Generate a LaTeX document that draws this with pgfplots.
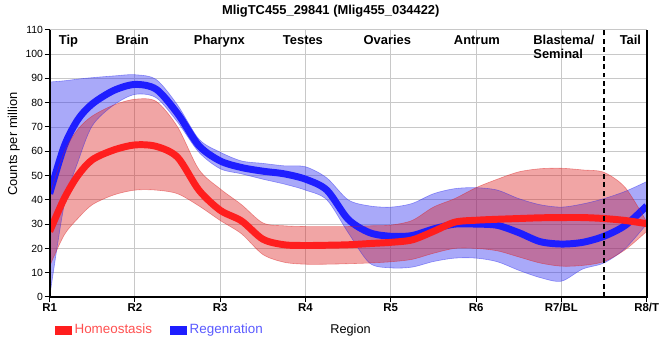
\documentclass[border=0pt]{standalone}
\usepackage{fontspec}
\setmainfont{Liberation Sans}
\usepackage{pgfplots}
\pgfplotsset{compat=1.18}
\usepackage{pgfplotstable}
\usepgfplotslibrary{fillbetween}
\definecolor{redline}{RGB}{255,30,30}
\definecolor{blueline}{RGB}{30,30,255}
\definecolor{redband}{RGB}{220,30,30}
\definecolor{blueband}{RGB}{40,40,240}
\definecolor{gridgray}{RGB}{200,200,200}
\definecolor{legred}{RGB}{255,80,80}
\definecolor{legblue}{RGB}{90,90,255}

% x: region position (R1=0 ... R8/T=7)
% rl/ru/rb: Homeostasis line / upper / lower ; bl/bu/bb: Regenration line / upper / lower
\pgfplotstableread{
x     rl    ru    rb    bl    bu    bb
0     27    42    12.7  42.5  88.5  0
0.17  40.5  59.6  25.5  62    89    37.8
0.33  50    69    32.3  73    89.7  55.5
0.5   56.5  74.5  38    79.5  90.3  70.5
0.75  60.5  79    42    85    91    79
1     62.6  81.4  44    87.5  91.5  83.4
1.25  62    80.5  44    85.5  89.5  82
1.5   57.5  70    42.5  75.5  79    72
1.75  44    52.5  37.5  62.3  65    59.6
2     35.7  44.5  31.5  56    59.6  52.8
2.25  31.3  38    26    53.3  56    50.7
2.5   23.8  30.5  17.5  51.8  55    48.5
2.75  21.5  29.3  14.3  50.7  54    46.5
3     21.2  29    13.5  48.5  53.6  44
3.25  21.3  29    13.5  44    49    40
3.5   21.5  29    13.7  32    40    26.5
3.75  22    29.3  14    26.5  37.5  14
4     22.5  29.6  14.5  25    37    12
4.25  23.5  31.5  15.5  25.3  38.5  12.3
4.5   27    37    18    28    42.5  14.6
4.75  30.8  40.5  20    30    44.6  16
5     31.6  45    20    30    45    16
5.25  32    48.5  19    29.5  44    14.5
5.5   32.3  51.5  16.5  26.5  40.5  11
5.75  32.6  52.8  14    22.8  38    8
6     32.7  53    12.7  21.8  37    6.5
6.25  32.7  52.3  13    22.5  38.3  11.5
6.5   32.3  51.3  14.6  25    40.5  14
6.75  31.5  45    19.5  29.5  43.5  20
7     30.2  31    27    37.5  47.5  30
}\data

\begin{document}
\begin{tikzpicture}
\path (0,0) rectangle (660bp,360bp);
\node[anchor=base, font=\fontsize{13bp}{15bp}\selectfont\bfseries] at (333bp,345bp) {MligTC455\_29841 (Mlig455\_034422)};
\node[rotate=90, font=\fontsize{13bp}{15bp}\selectfont] at (14bp,215bp) {Counts per million};
\begin{axis}[
  at={(50bp,61bp)}, anchor=south west,
  scale only axis, width=601bp, height=269bp,
  xmin=0, xmax=7, ymin=0, ymax=110,
  xtick={0,...,7},
  xticklabels={R1,R2,R3,R4,R5,R6,R7/BL,R8/T},
  ytick={0,10,...,110},
  xtick pos=bottom, ytick pos=left, tick align=outside,
  major tick length=5bp,
  tick style={black, line width=1bp},
  grid=major, grid style={gridgray, line width=0.9bp},
  axis line style={draw=none},
  /pgf/number format/assume math mode=true,
  yticklabel style={font=\fontsize{10.5bp}{12bp}\selectfont, inner sep=1.5bp},
  xticklabel style={font=\fontsize{11.5bp}{13bp}\selectfont\bfseries, inner sep=1bp},
  clip mode=individual,
  xlabel={Region},
  x label style={at={(rel axis cs:0.504,-0.1375)}, anchor=base, font=\fontsize{12.8bp}{14bp}\selectfont},
  legend style={at={(rel axis cs:0.0083,-0.122)}, anchor=west, draw=none, fill=none,
    legend columns=2, inner sep=0pt, nodes={inner sep=0pt},
    font=\fontsize{13.5bp}{15bp}\selectfont,
    /tikz/every odd column/.append style={column sep=3bp},
    /tikz/every even column/.append style={column sep=18bp}},
  legend image code/.code={\fill[#1] (0bp,-4.2bp) rectangle (16.5bp,3bp);},
]
\addlegendimage{redline}
\addlegendentry{\textcolor{legred}{Homeostasis}}
\addlegendimage{blueline}
\addlegendentry{\textcolor{legblue}{Regenration}}

% Regeneration band and line
\addplot[name path=bu, blueband, draw opacity=0.45, line width=0.6bp, smooth, forget plot] table[x=x, y=bu] {\data};
\addplot[name path=bb, blueband, draw opacity=0.45, line width=0.6bp, smooth, forget plot] table[x=x, y=bb] {\data};
\addplot[blueband, fill opacity=0.4, draw=none, forget plot] fill between[of=bu and bb];
\addplot[blueline, line width=7bp, smooth, forget plot] table[x=x, y=bl] {\data};

% Homeostasis band and line
\addplot[name path=ru, redband, draw opacity=0.45, line width=0.6bp, smooth, forget plot] table[x=x, y=ru] {\data};
\addplot[name path=rb, redband, draw opacity=0.45, line width=0.6bp, smooth, forget plot] table[x=x, y=rb] {\data};
\addplot[redband, fill opacity=0.4, draw=none, forget plot] fill between[of=ru and rb];
\addplot[redline, line width=7bp, smooth, forget plot] table[x=x, y=rl] {\data};

% dashed separator
\draw[black, line width=2.3bp, dash pattern=on 5bp off 3.5bp] (axis cs:6.5,0) -- (axis cs:6.5,110);
% spines
\draw[black, line width=2.2bp] (rel axis cs:0,1) -- (rel axis cs:0,0) -- (rel axis cs:1,0) -- (rel axis cs:1,1);

% region names
\begin{scope}[every node/.style={font=\fontsize{13bp}{14.3bp}\selectfont\bfseries, inner sep=0pt}]
\node[anchor=base] at (axis cs:0.22,103.9) {Tip};
\node[anchor=base] at (axis cs:0.97,103.9) {Brain};
\node[anchor=base] at (axis cs:1.99,103.9) {Pharynx};
\node[anchor=base] at (axis cs:2.97,103.9) {Testes};
\node[anchor=base] at (axis cs:3.96,103.9) {Ovaries};
\node[anchor=base] at (axis cs:5.01,103.9) {Antrum};
\node[anchor=base west] at (axis cs:5.67,103.9) {Blastema/};
\node[anchor=base west] at (axis cs:5.67,98.1) {Seminal};
\node[anchor=base] at (axis cs:6.81,103.9) {Tail};
\end{scope}
\end{axis}
\end{tikzpicture}
\end{document}
